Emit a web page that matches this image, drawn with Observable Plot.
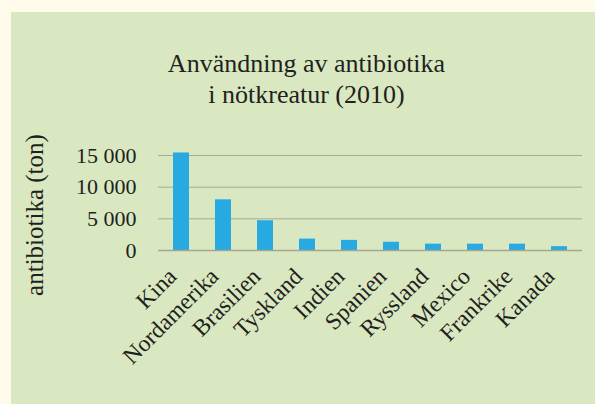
<!DOCTYPE html>
<html><head><meta charset="utf-8">
<script src="https://cdn.jsdelivr.net/npm/d3@7"></script>
<script src="https://cdn.jsdelivr.net/npm/@observablehq/plot@0.6"></script>
<style>
html,body{margin:0;padding:0;}
body{width:595px;height:404px;background:#fffbea;position:relative;overflow:hidden;font-family:"Liberation Serif","Times New Roman","DejaVu Serif",serif;color:#231f20;}
#panel{position:absolute;left:11px;top:12px;width:584px;height:392px;background:#d9e8c0;}
#title{position:absolute;left:11px;width:591px;top:48px;text-align:center;font-size:26px;line-height:31px;}
#ylabel{position:absolute;left:-65.5px;top:200px;width:200px;height:30px;line-height:30px;text-align:center;font-size:25px;transform:rotate(-90deg);transform-origin:50% 50%;white-space:nowrap;}
#chart{position:absolute;left:0;top:0;}
#chart svg, #chart svg text{font-family:"Liberation Serif","Times New Roman","DejaVu Serif",serif !important;}
</style></head>
<body>
<div id="panel"></div>
<div id="title">Användning av antibiotika<br>i nötkreatur (2010)</div>
<div id="chart"></div>
<div id="ylabel"></div>
<script>
const countries = ["Kina","Nordamerika","Brasilien","Tyskland","Indien","Spanien","Ryssland","Mexico","Frankrike","Kanada"];
const tons = [15400, 8000, 4700, 1800, 1600, 1300, 1000, 1000, 1000, 600];
const yTicks = [0, 5000, 10000, 15000];
const yLabel = "antibiotika (ton)";

document.getElementById("ylabel").textContent = yLabel;
const data = countries.map((c, i) => ({country: c, tons: tons[i]}));
const fmt = d => d3.format(",")(d).replace(/,/g, " ");

const chart = Plot.plot({
  width: 595, height: 404,
  marginLeft: 158, marginRight: 13, marginTop: 155, marginBottom: 154,
  style: {background: "transparent", fontFamily: "'Liberation Serif', 'Times New Roman', serif", color: "#231f20", overflow: "visible"},
  x: {domain: countries, paddingInner: 0.62, paddingOuter: 0.31, label: null},
  y: {domain: [0, 15000], label: null},
  marks: [
    Plot.ruleY(yTicks.filter(d => d > 0), {stroke: "#a6a89c", strokeWidth: 1, strokeOpacity: 1}),
    Plot.barY(data, {x: "country", y: "tons", fill: "#27a9e1"}),
    Plot.ruleY([0], {stroke: "#a3a597", strokeWidth: 1.6, strokeOpacity: 1}),
    Plot.axisY(yTicks, {tickSize: 0, tickPadding: 22, tickFormat: fmt, fontSize: 22, label: null}),
    Plot.axisX({tickSize: 0, tickRotate: -45, fontSize: 23.5, tickPadding: 10, dx: -9, dy: 12, label: null})
  ]
});
document.getElementById("chart").appendChild(chart);
</script>
</body></html>
